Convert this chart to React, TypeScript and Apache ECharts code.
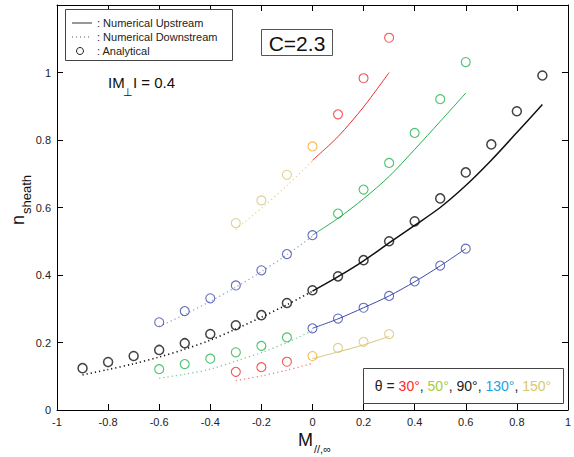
import React, { useEffect, useRef } from "react";
import * as echarts from "echarts";

// ---- data ----
const blackDownX = [-0.9, -0.8, -0.7, -0.6, -0.5, -0.4, -0.3, -0.2, -0.1, 0];
const blackDownY = [0.104, 0.12, 0.137, 0.157, 0.18, 0.207, 0.24, 0.275, 0.312, 0.352];
const blackUpX = [0, 0.1, 0.2, 0.3, 0.4, 0.5, 0.6, 0.7, 0.8, 0.9];
const blackUpY = [0.352, 0.395, 0.442, 0.495, 0.547, 0.6, 0.665, 0.74, 0.822, 0.905];
const blackAnaX = [-0.9, -0.8, -0.7, -0.6, -0.5, -0.4, -0.3, -0.2, -0.1, 0, 0.1, 0.2, 0.3, 0.4, 0.5, 0.6, 0.7, 0.8, 0.9];
const blackAnaY = [0.124, 0.142, 0.16, 0.178, 0.198, 0.225, 0.251, 0.281, 0.317, 0.355, 0.396, 0.444, 0.5, 0.559, 0.627, 0.704, 0.787, 0.885, 0.991];

const redDownX = [-0.3, -0.2, -0.1, 0];
const redDownY = [0.087, 0.101, 0.118, 0.138];
const redUpX = [0, 0.1, 0.2, 0.3];
const redUpY = [0.74, 0.81, 0.898, 1.0];
const redAnaX = [-0.3, -0.2, -0.1, 0.1, 0.2, 0.3];
const redAnaY = [0.113, 0.127, 0.143, 0.876, 0.983, 1.103];

const yelDownX = [-0.3, -0.2, -0.1, 0];
const yelDownY = [0.535, 0.598, 0.665, 0.737];
const yelUpX = [0, 0.1, 0.2, 0.3];
const yelUpY = [0.152, 0.172, 0.193, 0.218];
const yelAnaX = [-0.3, -0.2, -0.1, 0.1, 0.2, 0.3];
const yelAnaY = [0.554, 0.621, 0.697, 0.184, 0.202, 0.225];

const overlapX = [0, 0];
const overlapY = [0.781, 0.16];

const grnDownX = [-0.6, -0.5, -0.4, -0.3, -0.2, -0.1, 0];
const grnDownY = [0.094, 0.106, 0.121, 0.145, 0.17, 0.2, 0.235];
const grnUpX = [0, 0.1, 0.2, 0.3, 0.4, 0.5, 0.6];
const grnUpY = [0.518, 0.568, 0.626, 0.692, 0.772, 0.855, 0.939];
const grnAnaX = [-0.6, -0.5, -0.4, -0.3, -0.2, -0.1, 0.1, 0.2, 0.3, 0.4, 0.5, 0.6];
const grnAnaY = [0.121, 0.136, 0.152, 0.171, 0.19, 0.215, 0.582, 0.653, 0.732, 0.821, 0.921, 1.031];

const bluDownX = [-0.6, -0.5, -0.4, -0.3, -0.2, -0.1, 0];
const bluDownY = [0.248, 0.283, 0.322, 0.364, 0.41, 0.46, 0.515];
const bluUpX = [0, 0.1, 0.2, 0.3, 0.4, 0.5, 0.6];
const bluUpY = [0.242, 0.27, 0.303, 0.338, 0.38, 0.427, 0.478];
const bluAnaX = [-0.6, -0.5, -0.4, -0.3, -0.2, -0.1, 0, 0, 0.1, 0.2, 0.3, 0.4, 0.5, 0.6];
const bluAnaY = [0.26, 0.293, 0.331, 0.369, 0.414, 0.462, 0.518, 0.242, 0.271, 0.303, 0.338, 0.381, 0.428, 0.478];

const FONT = "'Liberation Sans', Arial, Helvetica, sans-serif";

const zip = (xs: number[], ys: number[]) => xs.map((x, i) => [x, ys[i]]);

function lineSeries(xs: number[], ys: number[], color: string, width: number, dotted: boolean) {
  return {
    type: "line",
    data: zip(xs, ys),
    showSymbol: false,
    symbol: "none",
    smooth: 0.3,
    silent: true,
    z: 2,
    lineStyle: { color, width, type: dotted ? [1.2, 3] : "solid" },
  };
}

function circleSeries(xs: number[], ys: number[], color: string, size: number, bw: number) {
  return {
    type: "scatter",
    data: zip(xs, ys),
    symbol: "circle",
    symbolSize: size,
    silent: true,
    z: 3,
    itemStyle: { color: "rgba(255,255,255,0)", borderColor: color, borderWidth: bw },
  };
}

const RED = "#ee2b2b";
const GRN = "#22b04a";
const BLU = "#3d4aa8";
const YEL = "#d6c677";
const ORG = "#f4a92a";

export default function App() {
  const ref = useRef<HTMLDivElement>(null);
  useEffect(() => {
    if (!ref.current) return;
    const chart = echarts.init(ref.current, null, { renderer: "svg" });
    const fmt = (v: number) => {
      const r = Math.round(v * 10) / 10;
      if (Math.abs(r - 1.2) < 1e-9) return "";
      return String(r === 0 ? 0 : r);
    };
    const axisCommon = {
      type: "value",
      axisLine: { show: true, onZero: false, lineStyle: { color: "#000", width: 1 } },
      axisTick: { show: true, inside: true, length: 6, lineStyle: { color: "#000" } },
      splitLine: { show: false },
    };
    chart.setOption({
      animation: false,
      backgroundColor: "#fff",
      grid: { left: 57, top: 5, right: 1, bottom: 47 },
      xAxis: [
        {
          ...axisCommon,
          min: -1,
          max: 1,
          interval: 0.2,
          position: "bottom",
          axisLabel: { color: "#222", fontSize: 11, margin: 6, fontFamily: FONT, formatter: fmt, showMaxLabel: true, showMinLabel: true },
        },
        {
          ...axisCommon,
          min: -1,
          max: 1,
          interval: 0.2,
          position: "top",
          axisLabel: { show: false },
        },
      ],
      yAxis: [
        {
          ...axisCommon,
          min: 0,
          max: 1.2,
          interval: 0.2,
          position: "left",
          axisLabel: { color: "#222", fontSize: 11, margin: 6, fontFamily: FONT, formatter: fmt },
        },
        {
          ...axisCommon,
          min: 0,
          max: 1.2,
          interval: 0.2,
          position: "right",
          axisLabel: { show: false },
        },
      ],
      series: [
        lineSeries(blackDownX, blackDownY, "#111", 1.6, true),
        lineSeries(blackUpX, blackUpY, "#111", 1.5, false),
        lineSeries(redDownX, redDownY, "#f07a7a", 1.3, true),
        lineSeries(redUpX, redUpY, RED, 1, false),
        lineSeries(yelDownX, yelDownY, "#e2d88e", 1.3, true),
        lineSeries(yelUpX, yelUpY, YEL, 1, false),
        lineSeries(grnDownX, grnDownY, "#6fd08f", 1.3, true),
        lineSeries(grnUpX, grnUpY, GRN, 1, false),
        lineSeries(bluDownX, bluDownY, "#9a9ed8", 1.3, true),
        lineSeries(bluUpX, bluUpY, BLU, 1, false),
        circleSeries(blackAnaX, blackAnaY, "#111", 9, 1.5),
        circleSeries(redAnaX, redAnaY, RED, 9, 1.1),
        circleSeries(yelAnaX, yelAnaY, YEL, 9, 1.1),
        circleSeries(grnAnaX, grnAnaY, GRN, 9, 1.1),
        circleSeries(bluAnaX, bluAnaY, BLU, 9, 1.1),
        circleSeries(overlapX, overlapY, ORG, 9, 1.1),
      ],
      graphic: [
        // legend box
        { type: "rect", shape: { x: 65.5, y: 9.5, width: 167, height: 51 }, style: { fill: "#fff", stroke: "#444", lineWidth: 1 }, z: 10 },
        { type: "line", shape: { x1: 72, y1: 23, x2: 92, y2: 23 }, style: { stroke: "#333", lineWidth: 1 }, z: 11 },
        { type: "line", shape: { x1: 72, y1: 37, x2: 92, y2: 37 }, style: { stroke: "#555", lineWidth: 1, lineDash: [1, 3] }, z: 11 },
        { type: "circle", shape: { cx: 80, cy: 51, r: 3.5 }, style: { fill: "none", stroke: "#222", lineWidth: 1 }, z: 11 },
        { type: "text", x: 97, y: 23, style: { text: ": Numerical Upstream", fontSize: 11, fontFamily: FONT, fill: "#222", verticalAlign: "middle" }, z: 11 },
        { type: "text", x: 97, y: 37, style: { text: ": Numerical Downstream", fontSize: 11, fontFamily: FONT, fill: "#222", verticalAlign: "middle" }, z: 11 },
        { type: "text", x: 97, y: 51, style: { text: ": Analytical", fontSize: 11, fontFamily: FONT, fill: "#222", verticalAlign: "middle" }, z: 11 },
        // C=2.3 box
        { type: "rect", shape: { x: 261.5, y: 29.5, width: 71, height: 26 }, style: { fill: "#fff", stroke: "#555", lineWidth: 1 }, z: 10 },
        { type: "text", x: 297, y: 43, style: { text: "C=2.3", fontSize: 21, fontFamily: FONT, fill: "#111", align: "center", verticalAlign: "middle" }, z: 11 },
        // |M_perp| = 0.4
        { type: "text", x: 108, y: 82, style: { text: "IM", fontSize: 15, fontFamily: FONT, fill: "#111", verticalAlign: "middle" }, z: 11 },
        { type: "text", x: 128, y: 92, style: { text: "⊥", fontSize: 11, fontFamily: FONT, fill: "#111", align: "center", verticalAlign: "middle" }, z: 11 },
        { type: "text", x: 133, y: 82, style: { text: "I = 0.4", fontSize: 15, fontFamily: FONT, fill: "#111", verticalAlign: "middle" }, z: 11 },
        // theta legend box
        { type: "rect", shape: { x: 363.5, y: 368.5, width: 200, height: 35 }, style: { fill: "#fff", stroke: "#444", lineWidth: 1 }, z: 10 },
        {
          type: "text",
          x: 463,
          y: 386,
          z: 11,
          style: {
            text: "{k|θ = }{r|30°}{k|, }{g|50°}{k|, 90°, }{b|130°}{k|, }{y|150°}",
            align: "center",
            verticalAlign: "middle",
            fontFamily: FONT,
            fontSize: 14,
            rich: {
              k: { fill: "#222", fontSize: 14, fontFamily: FONT },
              r: { fill: "#ff2a2a", fontSize: 14, fontFamily: FONT },
              g: { fill: "#a6cc3c", fontSize: 14, fontFamily: FONT },
              b: { fill: "#1ea0e0", fontSize: 14, fontFamily: FONT },
              y: { fill: "#d9c86c", fontSize: 14, fontFamily: FONT },
            },
          },
        },
        // x axis name
        { type: "text", x: 313, y: 440, style: { text: "M", fontSize: 18, fontFamily: FONT, fill: "#111", align: "right", verticalAlign: "middle" }, z: 11 },
        { type: "text", x: 314, y: 449, style: { text: "//,∞", fontSize: 11, fontFamily: FONT, fill: "#111", align: "left", verticalAlign: "middle" }, z: 11 },
        // y axis name
        {
          type: "group",
          x: 18,
          y: 215,
          rotation: Math.PI / 2,
          z: 11,
          children: [
            { type: "text", x: 0, y: 0, style: { text: "n", fontSize: 18, fontFamily: FONT, fill: "#111", align: "right", verticalAlign: "middle" } },
            { type: "text", x: 1, y: 8, style: { text: "sheath", fontSize: 13, fontFamily: FONT, fill: "#111", align: "left", verticalAlign: "middle" } },
          ],
        },
      ],
    });
    return () => chart.dispose();
  }, []);
  return <div ref={ref} style={{ position: "fixed", left: 0, top: 0, width: 574, height: 457 }} />;
}
